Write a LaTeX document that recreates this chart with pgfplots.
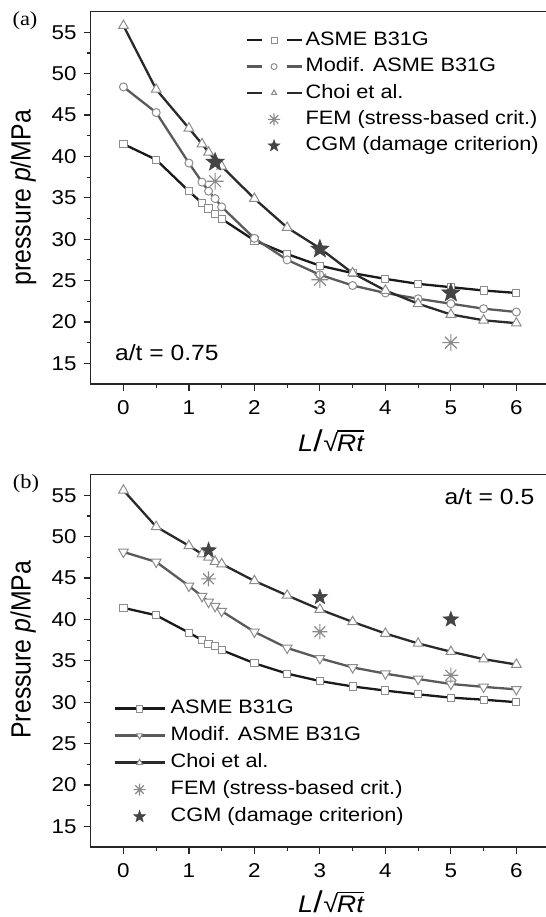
\documentclass[border=0pt]{standalone}
\usepackage{fontspec}
\setmainfont{Liberation Sans}[FakeStretch=1.12]
\newfontfamily\labfont{Liberation Serif}[FakeStretch=1.12]
\newfontfamily\ylabfont{Liberation Sans}[FakeStretch=0.893]
\usepackage{pgfplots}
\pgfplotsset{compat=1.18}

% overlined text (for the radical in the x label)
\newcommand{\ovl}[1]{\setbox0\hbox{#1}\rlap{\rule[10.1pt]{\wd0}{0.6pt}}\box0}
\newcommand{\xlab}{{\fontsize{12}{14}\selectfont\itshape L\kern0.2pt{\upshape\fontsize{15}{15}\selectfont/}\kern0.3pt{\upshape √}\kern-0.6pt\ovl{Rt}}}

% eight-armed asterisk (FEM) and filled star (CGM)
\pgfdeclareplotmark{ast8}{%
  \pgfpathmoveto{\pgfqpoint{-\pgfplotmarksize}{0pt}}%
  \pgfpathlineto{\pgfqpoint{\pgfplotmarksize}{0pt}}%
  \pgfpathmoveto{\pgfqpoint{0pt}{-\pgfplotmarksize}}%
  \pgfpathlineto{\pgfqpoint{0pt}{\pgfplotmarksize}}%
  \pgfpathmoveto{\pgfqpoint{-0.707\pgfplotmarksize}{-0.707\pgfplotmarksize}}%
  \pgfpathlineto{\pgfqpoint{0.707\pgfplotmarksize}{0.707\pgfplotmarksize}}%
  \pgfpathmoveto{\pgfqpoint{-0.707\pgfplotmarksize}{0.707\pgfplotmarksize}}%
  \pgfpathlineto{\pgfqpoint{0.707\pgfplotmarksize}{-0.707\pgfplotmarksize}}%
  \pgfusepathqstroke}
\pgfdeclareplotmark{fstar}{%
  \pgfpathmoveto{\pgfqpointpolar{90}{\pgfplotmarksize}}%
  \pgfpathlineto{\pgfqpointpolar{126}{0.42\pgfplotmarksize}}%
  \pgfpathlineto{\pgfqpointpolar{162}{\pgfplotmarksize}}%
  \pgfpathlineto{\pgfqpointpolar{198}{0.42\pgfplotmarksize}}%
  \pgfpathlineto{\pgfqpointpolar{234}{\pgfplotmarksize}}%
  \pgfpathlineto{\pgfqpointpolar{270}{0.42\pgfplotmarksize}}%
  \pgfpathlineto{\pgfqpointpolar{306}{\pgfplotmarksize}}%
  \pgfpathlineto{\pgfqpointpolar{342}{0.42\pgfplotmarksize}}%
  \pgfpathlineto{\pgfqpointpolar{18}{\pgfplotmarksize}}%
  \pgfpathlineto{\pgfqpointpolar{54}{0.42\pgfplotmarksize}}%
  \pgfpathclose\pgfusepathqfillstroke}

\definecolor{lineA}{HTML}{1A1A1A}
\definecolor{lineM}{HTML}{5A5A5A}
\definecolor{lineC}{HTML}{2A2A2A}
\definecolor{markE}{HTML}{8C8C8C}
\definecolor{femc}{HTML}{8A8A8A}
\definecolor{cgmc}{HTML}{444444}

\pgfplotsset{
  pax/.style={
    width=229.2pt, height=186.2pt, scale only axis,
    xmin=-0.5, xmax=6.5, ymin=12.5, ymax=57.5,
    xtick={0,1,...,6}, ytick={15,20,...,55},
    minor x tick num=1, minor y tick num=1,
    tick align=outside, xtick pos=left, ytick pos=left,
    major tick length=3.5pt, minor tick length=2pt,
    axis line style={line width=0.7pt, black!85},
    every tick/.style={line width=0.6pt, black!85},
    /pgf/number format/assume math mode=true,
    ticklabel style={font=\fontsize{10}{12}\selectfont},
    xticklabel style={yshift=-1.2pt},
    xlabel style={inner sep=0pt, anchor=base},
    ylabel style={inner sep=0pt, anchor=center},
    legend cell align=left,
    clip=false,
  },
  lA/.style={color=lineA, line width=1.15pt, mark=square*,
    mark size=1.8pt, mark options={fill=white, draw=markE, line width=0.5pt}},
  lM/.style={color=lineM, line width=1.15pt,
    mark options={fill=white, draw=markE, line width=0.5pt}},
  lC/.style={color=lineC, line width=1.15pt, mark=triangle*,
    mark size=2.8pt, mark options={fill=white, draw=markE, line width=0.5pt}},
  fem/.style={only marks, mark=ast8, mark size=4.2pt,
    mark options={draw=femc, line width=0.6pt}},
  cgm/.style={only marks, mark=fstar, mark size=4.8pt,
    mark options={fill=cgmc, draw=cgmc, line width=0.3pt}},
  % legend images of panel (a): broken line with small mark
  legA/.style={legend image code/.code={
      \draw[##1, mark=none] (0pt,0pt) -- (7.5pt,0pt);
      \draw[##1, mark=none] (20pt,0pt) -- (27.5pt,0pt);
      \draw[##1, only marks, mark size=1.5pt] plot coordinates {(13.75pt,0pt)};}},
  legAm/.style={legend image code/.code={
      \draw[##1, mark size=3pt] plot coordinates {(13.75pt,0pt)};
      \path (0pt,0pt) (27.5pt,0pt);}},
  % legend images of panel (b): full line with small mark
  legB/.style={legend image code/.code={
      \draw[##1, mark=none] (0pt,0pt) -- (25pt,0pt);
      \draw[##1, only marks, mark size=1.7pt] plot coordinates {(12.5pt,0pt)};}},
  legBm/.style={legend image code/.code={
      \draw[##1, mark size=3pt] plot coordinates {(12.5pt,0pt)};
      \path (0pt,0pt) (25pt,0pt);}},
}

\begin{document}
\begin{tikzpicture}
\useasboundingbox (0,0) rectangle (273pt,458.5pt);

% ---------------- (a) a/t = 0.75
\begin{axis}[pax, at={(45.35pt,266.5pt)}, anchor=south west,
  xlabel={\xlab},
  xlabel style={at={(axis description cs:0.524,-0.182)}},
  ylabel={\ylabfont\fontsize{13.9}{16}\selectfont pressure \textit{p}/MPa},
  ylabel style={at={(axis description cs:-0.1466,0.5)}},
  legend style={at={(axis description cs:0.3366,0.949)}, anchor=north west,
    draw=none, fill=none, inner sep=0pt, row sep=4pt, column sep=1.5pt,
    font=\fontsize{9.7}{11}\selectfont,
    nodes={inner sep=0pt, text height=7.2pt, text depth=2pt}},
]
\addplot[lA, legA] coordinates {(0,41.5) (0.5,39.6) (1,35.8) (1.2,34.35) (1.3,33.7)
  (1.4,33.05) (1.5,32.45) (2,29.85) (2.5,28.2) (3,26.8) (3.5,25.9) (4,25.2)
  (4.5,24.6) (5,24.2) (5.5,23.8) (6,23.5)};
\addplot[lM, mark=*, mark size=2pt, legA] coordinates {(0,48.4) (0.5,45.3) (1,39.2)
  (1.2,36.9) (1.3,35.8) (1.4,34.9) (1.5,33.9) (2,30.1) (2.5,27.5) (3,25.7)
  (3.5,24.4) (4,23.5) (4.5,22.8) (5,22.2) (5.5,21.6) (6,21.2)};
\addplot[lC, legA] coordinates {(0,55.8) (0.5,48.1) (1,43.4) (1.2,41.5) (1.3,40.5)
  (1.4,39.6) (1.5,38.8) (2,34.9) (2.5,31.4) (3,28.9) (3.5,25.9) (4,23.8)
  (4.5,22.2) (5,20.9) (5.5,20.2) (6,19.85)};
\addplot[fem, legAm] coordinates {(1.4,37.0) (3,25.1) (5,17.5)};
\addplot[cgm, legAm] coordinates {(1.4,39.3) (3,28.8) (5,23.5)};
\legend{ASME B31G, Modif. ASME B31G, Choi et al., FEM (stress-based crit.), CGM (damage criterion)}
\node[anchor=base west, font=\fontsize{11}{13}\selectfont]
  at (axis description cs:0.038,0.062) {a/t = 0.75};
\end{axis}

% ---------------- (b) a/t = 0.5
\begin{axis}[pax, at={(45.35pt,35pt)}, anchor=south west,
  xlabel={\xlab},
  xlabel style={at={(axis description cs:0.524,-0.177)}},
  ylabel={\ylabfont\fontsize{13.9}{16}\selectfont Pressure \textit{p}/MPa},
  ylabel style={at={(axis description cs:-0.1466,0.53)}},
  legend style={at={(axis description cs:0.0487,0.3974)}, anchor=north west,
    draw=none, fill=none, inner sep=0pt, row sep=4.3pt, column sep=2.5pt,
    font=\fontsize{9.7}{11}\selectfont,
    nodes={inner sep=0pt, text height=7.2pt, text depth=2pt}},
]
\addplot[lA, legB] coordinates {(0,41.4) (0.5,40.5) (1,38.4) (1.2,37.5) (1.3,37.0)
  (1.4,36.8) (1.5,36.3) (2,34.7) (2.5,33.45) (3,32.55) (3.5,31.9) (4,31.4)
  (4.5,30.95) (5,30.55) (5.5,30.3) (6,30.0)};
\addplot[lM, mark=triangle*, mark size=2.8pt,
  mark options={rotate=180, fill=white, draw=markE, line width=0.5pt}, legB]
  coordinates {(0,48.15) (0.5,46.95) (1,44.05) (1.2,42.8) (1.3,42.1) (1.4,41.6)
  (1.5,41.0) (2,38.5) (2.5,36.55) (3,35.3) (3.5,34.2) (4,33.45) (4.5,32.8)
  (5,32.2) (5.5,31.85) (6,31.55)};
\addplot[lC, legB] coordinates {(0,55.6) (0.5,51.2) (1,48.9) (1.2,47.9) (1.3,47.5)
  (1.4,47.0) (1.5,46.7) (2,44.65) (2.5,42.9) (3,41.2) (3.5,39.7) (4,38.3)
  (4.5,37.1) (5,36.1) (5.5,35.2) (6,34.55)};
\addplot[fem, mark size=3.8pt, legBm] coordinates {(1.3,44.9) (3,38.5) (5,33.25)};
\addplot[cgm, mark size=4pt, legBm] coordinates {(1.3,48.35) (3,42.7) (5,40.0)};
\legend{ASME B31G, Modif. ASME B31G, Choi et al., FEM (stress-based crit.), CGM (damage criterion)}
\node[anchor=base east, font=\fontsize{11}{13}\selectfont]
  at (axis description cs:0.983,0.919) {a/t = 0.5};
\end{axis}

\node[font=\labfont\fontsize{10}{12}\selectfont] at (12.5pt,448pt) {(a)};
\node[font=\labfont\fontsize{10}{12}\selectfont] at (13pt,216.5pt) {(b)};
\end{tikzpicture}
\end{document}
